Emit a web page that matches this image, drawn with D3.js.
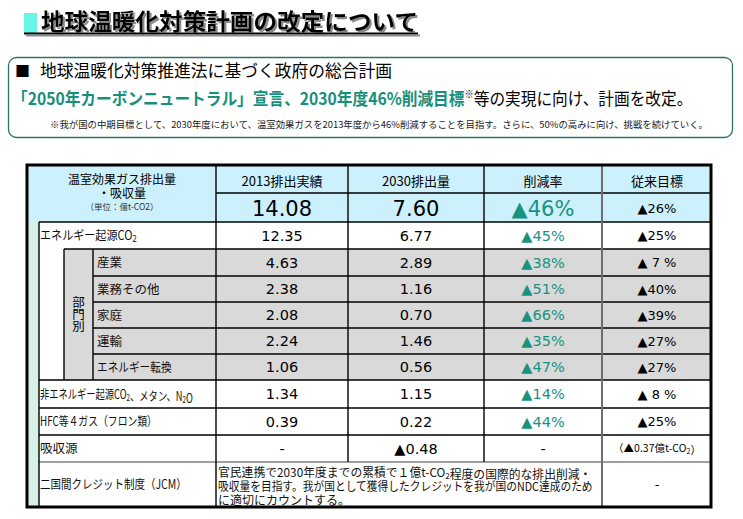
<!DOCTYPE html>
<html><head><meta charset="utf-8">
<script src="https://cdn.jsdelivr.net/npm/d3@7"></script>
<style>body{margin:0;background:#fff}svg{display:block}</style>
</head><body>
<svg id="c" width="743" height="519"></svg>
<script>
// ---------- data ----------
const titleText = "地球温暖化対策計画の改定について";
const boxLine1 = "地球温暖化対策推進法に基づく政府の総合計画";
const boxLine2Green = "「2050年カーボンニュートラル」宣言、2030年度46%削減目標";
const boxLine2Black = "等の実現に向け、計画を改定。";
const boxNote = "※我が国の中期目標として、2030年度において、温室効果ガスを2013年度から46%削減することを目指す。さらに、50%の高みに向け、挑戦を続けていく。";

const headerLabel = ["温室効果ガス排出量", "・吸収量", "（単位：億t-CO2）"];
const columnHeaders = ["2013排出実績", "2030排出量", "削減率", "従来目標"];
const total2013 = 14.08, total2030 = 7.60, totalRate = 46, totalPrevTarget = 26;

const rowLabels = ["エネルギー起源CO2", "産業", "業務その他", "家庭", "運輸", "エネルギー転換",
  "非エネルギー起源CO2、メタン、N2O", "HFC等４ガス（フロン類）", "吸収源", "二国間クレジット制度（JCM）"];
const isSector = [false, true, true, true, true, true, false, false, false, false];
const emissions2013 = [12.35, 4.63, 2.38, 2.08, 2.24, 1.06, 1.34, 0.39, null];
const emissions2030 = [6.77, 2.89, 1.16, 0.70, 1.46, 0.56, 1.15, 0.22, -0.48];
const reductionRates = [45, 38, 51, 66, 35, 47, 14, 44, null];
const previousTargets = [25, 7, 40, 39, 27, 27, 8, 25];
const sinkPrevTarget = "（▲0.37億t-CO2）";
const jcmText = ["官民連携で2030年度までの累積で１億t-CO2程度の国際的な排出削減・",
  "吸収量を目指す。我が国として獲得したクレジットを我が国のNDC達成のため",
  "に適切にカウントする。"];
const sectorGroupLabel = "部門別";

// ---------- layout ----------
const CJK = "'Noto Sans CJK JP','Noto Sans CJK SC',sans-serif";
const NUM = "'DejaVu Sans',Verdana,sans-serif";
const TEAL = "#17937f";
const svg = d3.select("#c");

const defs = svg.append("defs");
const f = defs.append("filter").attr("id", "sh").attr("x", "-5%").attr("y", "-20%").attr("width", "115%").attr("height", "160%");
f.append("feDropShadow").attr("dx", 2).attr("dy", 2).attr("stdDeviation", 0.4).attr("flood-color", "#8a8a8a").attr("flood-opacity", 1);

const T = {left: 27, top: 165, right: 711, bottom: 507, hdr1: 193, hdr2: 222};
const rowEdges = [222, 249, 276, 302, 328, 354, 380, 408, 435, 462, 507];
const labelFit = [97, null, null, null, null, 75, 153, 117, null, 147];
const rowY = d3.scaleOrdinal().domain(d3.range(rowLabels.length)).range(rowEdges.slice(0, -1));
const rowH = i => rowEdges[i + 1] - rowEdges[i];
const colX = d3.scaleOrdinal().domain(["y2013", "y2030", "rate", "prev"]).range([282, 416, 543, 657]);
const colEdges = {strip: 39, grp: 64, lbl: 93, c1: 216, c2: 348, c3: 484, c4: 602};

const fmt = d3.format(".2f");
const fmtVal = v => v == null ? "-" : (v < 0 ? "▲" + fmt(-v) : fmt(v));

// rich text with subscript 2 for CO2 / N2
function rich(sel, str, fs) {
  const parts = str.split(/(CO2|N2)/);
  parts.forEach(p => {
    if (p === "CO2" || p === "N2") {
      sel.append("tspan").text(p.slice(0, -1));
      sel.append("tspan").attr("font-size", fs * 0.68).attr("dy", fs * 0.16).text("2");
      sel.append("tspan").attr("dy", -fs * 0.16).text("");
    } else if (p) sel.append("tspan").text(p);
  });
  return sel;
}
// place a left-anchored text in a group, uniformly compressed horizontally to a target width
function fitText(parent, x, y, target) {
  const gg = parent.append("g");
  const t = gg.append("text").attr("x", 0).attr("y", 0);
  return {t, done: () => {
    const w = t.node().getBBox().width;
    const s = target && w > 0 ? target / w : 1;
    gg.attr("transform", `translate(${x},${y}) scale(${s},1)`);
  }};
}

// ---------- title ----------
svg.append("rect").attr("x", 24).attr("y", 13).attr("width", 13).attr("height", 20).attr("fill", "#66f5e6");
const tg = svg.append("g").attr("filter", "url(#sh)");
tg.append("text").attr("x", 41).attr("y", 30).attr("font-family", CJK).attr("font-weight", 700)
  .attr("font-size", 23).attr("fill", "#000").attr("textLength", 377).attr("lengthAdjust", "spacingAndGlyphs").text(titleText);
tg.append("rect").attr("x", 24).attr("y", 32.5).attr("width", 394).attr("height", 2).attr("fill", "#000");

// ---------- box ----------
svg.append("rect").attr("x", 8.5).attr("y", 57.5).attr("width", 724).attr("height", 80).attr("rx", 8)
  .attr("fill", "#fff").attr("stroke", "#2e7362").attr("stroke-width", 1.3);
svg.append("text").attr("x", 15).attr("y", 77).attr("font-family", CJK).attr("font-size", 15).text("■");
svg.append("text").attr("x", 40).attr("y", 77).attr("font-family", CJK).attr("font-size", 17)
  .attr("textLength", 352).attr("lengthAdjust", "spacingAndGlyphs").text(boxLine1);
const l2 = fitText(svg, 12, 105, 681);
l2.t.attr("font-family", CJK).attr("font-size", 17);
l2.t.append("tspan").attr("font-weight", 700).attr("fill", "#16907a").text(boxLine2Green);
l2.t.append("tspan").attr("font-weight", 700).attr("font-size", 10).attr("dy", -7).text("※");
l2.t.append("tspan").attr("dy", 7).attr("fill", "#000").text(boxLine2Black);
l2.done();
svg.append("text").attr("x", 50).attr("y", 128).attr("font-family", CJK).attr("font-size", 9.5).attr("fill", "#222")
  .attr("textLength", 658).attr("lengthAdjust", "spacingAndGlyphs").text(boxNote);

// ---------- table fills ----------
const g = svg.append("g");
g.append("rect").attr("x", T.left).attr("y", T.top).attr("width", T.right - T.left).attr("height", T.hdr2 - T.top).attr("fill", "#ccf0fc");
g.append("rect").attr("x", T.left).attr("y", T.hdr2).attr("width", colEdges.strip - T.left).attr("height", T.bottom - T.hdr2).attr("fill", "#d8f1e7");
const secIdx = d3.range(rowLabels.length).filter(i => isSector[i]);
const secTop = rowY(secIdx[0]), secBot = rowY(secIdx[secIdx.length - 1]) + rowH(secIdx[secIdx.length - 1]);
g.append("rect").attr("x", colEdges.grp).attr("y", secTop).attr("width", T.right - colEdges.grp).attr("height", secBot - secTop).attr("fill", "#d9d9d9");

// ---------- lines ----------
const hLines = [
  {y: T.hdr1, x1: colEdges.c1, x2: T.right, c: "#000"},
  {y: T.hdr2, x1: colEdges.strip, x2: T.right, c: "#000"}
];
d3.range(rowLabels.length - 1).forEach(i => {
  const y = rowY(i) + rowH(i);
  let x1 = colEdges.strip;
  if (isSector[i] && isSector[i + 1]) x1 = colEdges.lbl;
  else if (!isSector[i] && isSector[i + 1]) x1 = colEdges.grp;
  hLines.push({y, x1, x2: T.right, c: i === rowLabels.length - 2 ? "#808080" : "#000"});
});
g.selectAll(".hl").data(hLines).join("line").attr("x1", d => d.x1).attr("x2", d => d.x2)
  .attr("y1", d => d.y).attr("y2", d => d.y).attr("stroke", d => d.c).attr("stroke-width", 1.4);
const jcmTop = rowY(rowLabels.length - 1);
const vLines = [
  {x: colEdges.strip, y1: T.hdr2, y2: T.bottom, c: "#000", w: 1.4},
  {x: colEdges.grp, y1: secTop, y2: secBot, c: "#000", w: 1.4},
  {x: colEdges.lbl, y1: secTop, y2: secBot, c: "#000", w: 1.4},
  {x: colEdges.c1, y1: T.top, y2: T.bottom, c: "#000", w: 1.4},
  {x: colEdges.c2, y1: T.top, y2: jcmTop, c: "#000", w: 1.4},
  {x: colEdges.c3, y1: T.top, y2: jcmTop, c: "#000", w: 1.4},
  {x: colEdges.c4, y1: T.top, y2: T.bottom, c: "#6e6e6e", w: 2}
];
g.selectAll(".vl").data(vLines).join("line").attr("x1", d => d.x).attr("x2", d => d.x)
  .attr("y1", d => d.y1).attr("y2", d => d.y2).attr("stroke", d => d.c).attr("stroke-width", d => d.w);
g.append("rect").attr("x", T.left).attr("y", T.top).attr("width", T.right - T.left).attr("height", T.bottom - T.top)
  .attr("fill", "none").attr("stroke", "#000").attr("stroke-width", 3);

// ---------- header text ----------
g.selectAll(".hlab").data(headerLabel).join("text").attr("x", 122)
  .attr("y", (d, i) => [184, 198, 210][i]).attr("text-anchor", "middle").attr("font-family", CJK)
  .attr("font-size", (d, i) => i < 2 ? 12 : 8.5).attr("fill", (d, i) => i < 2 ? "#000" : "#333").text(d => d);
g.selectAll(".chead").data(columnHeaders).join("text")
  .attr("x", (d, i) => colX(colX.domain()[i])).attr("y", 186).attr("text-anchor", "middle")
  .attr("font-family", CJK).attr("font-size", 13).text(d => d);
const totals = [
  {k: "y2013", t: fmt(total2013), fs: 21, c: "#000"},
  {k: "y2030", t: fmt(total2030), fs: 21, c: "#000"},
  {k: "rate", t: "▲" + totalRate + "%", fs: 21, c: TEAL},
  {k: "prev", t: "▲" + totalPrevTarget + "%", fs: 13, c: "#000"}
];
g.selectAll(".tot").data(totals).join("text").attr("x", d => colX(d.k)).attr("y", d => d.fs > 15 ? 216 : 213)
  .attr("text-anchor", "middle").attr("font-family", NUM).attr("font-size", d => d.fs).attr("fill", d => d.c).text(d => d.t);

// ---------- body ----------
const rows = rowLabels.map((label, i) => ({label, i, sector: isSector[i],
  v13: emissions2013[i], v30: emissions2030[i], rate: reductionRates[i], prev: previousTargets[i]}));
const cy = i => rowY(i) + rowH(i) / 2;

rows.forEach(r => {
  const fs = 12.5;
  const ft = fitText(g, r.sector ? 97 : 40, cy(r.i), labelFit[r.i]);
  ft.t.attr("dy", "0.36em").attr("font-family", CJK).attr("font-size", fs).attr("fill", "#111");
  rich(ft.t, r.label, fs);
  ft.done();
});

const bodyRows = rows.slice(0, rows.length - 1);
g.selectAll(".v13").data(bodyRows).join("text").attr("x", colX("y2013")).attr("y", d => cy(d.i)).attr("dy", "0.36em")
  .attr("text-anchor", "middle").attr("font-family", NUM).attr("font-size", 14.5).text(d => fmtVal(d.v13));
g.selectAll(".v30").data(bodyRows).join("text").attr("x", colX("y2030")).attr("y", d => cy(d.i)).attr("dy", "0.36em")
  .attr("text-anchor", "middle").attr("font-family", NUM).attr("font-size", 14.5).text(d => fmtVal(d.v30));
g.selectAll(".rate").data(bodyRows).join("text").attr("x", colX("rate")).attr("y", d => cy(d.i)).attr("dy", "0.36em")
  .attr("text-anchor", "middle").attr("font-family", NUM).attr("font-size", 14.5)
  .attr("fill", d => d.rate == null ? "#000" : TEAL).text(d => d.rate == null ? "-" : "▲" + d.rate + "%");
g.selectAll(".prev").data(bodyRows.filter(d => d.prev != null)).join("text").attr("x", colX("prev")).attr("y", d => cy(d.i)).attr("dy", "0.36em")
  .attr("text-anchor", "middle").attr("font-family", NUM).attr("font-size", 13)
  .text(d => d.prev < 10 ? "▲ " + d.prev + " %" : "▲" + d.prev + "%");
// sink previous target
rich(g.append("text").attr("x", colX("prev")).attr("y", cy(8)).attr("dy", "0.36em").attr("text-anchor", "middle")
  .attr("font-family", CJK).attr("font-size", 10.5), sinkPrevTarget, 10.5);
// JCM
const jcmFit = [374, 375, null];
jcmText.forEach((d, i) => {
  const ft = fitText(g, 218, jcmTop + 15 + i * 14, jcmFit[i]);
  ft.t.attr("font-family", CJK).attr("font-size", 12).attr("fill", "#111");
  rich(ft.t, d, 12);
  ft.done();
});
g.append("text").attr("x", colX("prev")).attr("y", cy(9)).attr("dy", "0.36em").attr("text-anchor", "middle")
  .attr("font-family", NUM).attr("font-size", 13).text("-");
// 部門別 (vertical writing)
g.append("text").attr("x", (colEdges.grp + colEdges.lbl) / 2).attr("y", 296)
  .attr("writing-mode", "vertical-rl").attr("font-family", CJK).attr("font-size", 12.5)
  .attr("letter-spacing", -0.5).text(sectorGroupLabel);
</script>
</body></html>
